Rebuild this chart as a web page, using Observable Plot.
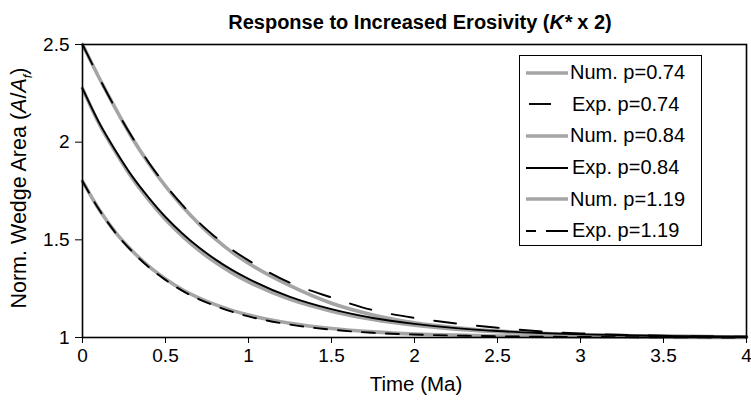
<!DOCTYPE html>
<html>
<head>
<meta charset="utf-8">
<script src="https://cdn.jsdelivr.net/npm/d3@7"></script>
<script src="https://cdn.jsdelivr.net/npm/@observablehq/plot@0.6"></script>
<style>
  body { margin: 0; background: #fff; font-family: "Liberation Sans", Arial, sans-serif; }
  #wrap { position: relative; width: 751px; height: 400px; overflow: hidden; }
  #chart svg text { font-size: 19px !important; font-family: "Liberation Sans", Arial, sans-serif; fill: #000; }
  #title { position: absolute; left: 0; width: 840px; top: 11px; text-align: center; font-weight: bold; font-size: 20px; }
  #ylab { position: absolute; left: 21px; top: 188px; transform: translate(-50%, -50%) rotate(-90deg); white-space: nowrap; font-size: 21.5px; }
  #xlab { position: absolute; left: 0; width: 832px; top: 372px; text-align: center; font-size: 20.5px; }
  #legend { position: absolute; left: 519px; top: 55px; width: 183px; height: 191px; border: 1px solid #000; background: #fff; box-sizing: border-box; padding-top: 1px; }
  .row { height: 31.6px; display: flex; align-items: center; font-size: 20px; }
  .row svg { width: 50px; height: 12px; flex: none; }
</style>
</head>
<body>
<div id="wrap">
  <div id="chart"></div>
  <div id="title">Response to Increased Erosivity (<i>K*</i> x 2)</div>
  <div id="ylab">Norm. Wedge Area (<i>A</i>/<i>A<sub style="font-size:13px">f</sub></i>)</div>
  <div id="xlab">Time (Ma)</div>
  <div id="legend"></div>
</div>
<script>
// Time (Ma)
const time = [0, 0.1, 0.2, 0.3, 0.4, 0.5, 0.6, 0.7, 0.8, 0.9, 1.0, 1.25, 1.5, 1.75, 2.0, 2.25, 2.5, 2.75, 3.0, 3.5, 4.0];
// Normalized wedge area series
const numP074 = [2.5, 2.33, 2.17, 2.02, 1.89, 1.775, 1.673, 1.583, 1.505, 1.437, 1.38, 1.265, 1.175, 1.115, 1.075, 1.05, 1.033, 1.022, 1.014, 1.006, 1.003];
const expP074 = [2.5, 2.33, 2.17, 2.025, 1.895, 1.78, 1.68, 1.59, 1.515, 1.45, 1.395, 1.28, 1.205, 1.14, 1.10, 1.072, 1.05, 1.032, 1.021, 1.009, 1.004];
const numP084 = [2.275, 2.095, 1.948, 1.815, 1.703, 1.604, 1.52, 1.447, 1.385, 1.331, 1.285, 1.195, 1.135, 1.092, 1.063, 1.043, 1.03, 1.02, 1.014, 1.007, 1.003];
const expP084 = [2.275, 2.10, 1.955, 1.825, 1.715, 1.617, 1.534, 1.462, 1.40, 1.346, 1.30, 1.208, 1.145, 1.10, 1.07, 1.048, 1.033, 1.023, 1.016, 1.008, 1.004];
const numP119 = [1.80, 1.655, 1.537, 1.443, 1.364, 1.30, 1.246, 1.203, 1.168, 1.139, 1.115, 1.073, 1.046, 1.029, 1.018, 1.012, 1.008, 1.005, 1.003, 1.001, 1.0];
const expP119 = [1.80, 1.655, 1.535, 1.44, 1.36, 1.295, 1.24, 1.197, 1.162, 1.132, 1.108, 1.066, 1.04, 1.024, 1.015, 1.01, 1.006, 1.004, 1.003, 1.001, 1.0];
// Ticks
const xTicks = [0, 0.5, 1, 1.5, 2, 2.5, 3, 3.5, 4];
const yTicks = [1, 1.5, 2, 2.5];
// Legend
const seriesNames = ["Num. p=0.74", "Exp. p=0.74", "Num. p=0.84", "Exp. p=0.84", "Num. p=1.19", "Exp. p=1.19"];

const GRAY = "#a5a5a5";
const series = [
  {name: seriesNames[0], vals: numP074, stroke: GRAY, width: 3.6, dash: null},
  {name: seriesNames[2], vals: numP084, stroke: GRAY, width: 3.6, dash: null},
  {name: seriesNames[4], vals: numP119, stroke: GRAY, width: 3.6, dash: null},
  {name: seriesNames[1], vals: expP074, stroke: "#000", width: 1.9, dash: "22,21"},
  {name: seriesNames[3], vals: expP084, stroke: "#000", width: 1.9, dash: null},
  {name: seriesNames[5], vals: expP119, stroke: "#000", width: 1.9, dash: "13,11"}
];

const marks = series.map(s => Plot.line(time.map((t, i) => ({t, v: s.vals[i]})), {
  x: "t", y: "v", stroke: s.stroke, strokeWidth: s.width,
  strokeDasharray: s.dash || undefined, curve: "monotone-x"
}));

const chart = Plot.plot({
  width: 751, height: 400,
  marginTop: 44, marginLeft: 82, marginRight: 5, marginBottom: 63,
  style: {fontFamily: "Liberation Sans, Arial, sans-serif", fontSize: "19px", color: "#000", background: "#fff"},
  x: {domain: [0, 4]},
  y: {domain: [1, 2.5]},
  marks: [
    ...marks,
    Plot.frame({stroke: "#000", strokeWidth: 1.6}),
    Plot.axisX({ticks: xTicks, tickSize: 6, tickPadding: 5, label: null, fontSize: 19, tickFormat: d => String(d)}),
    Plot.axisY({ticks: yTicks, tickSize: 7, tickPadding: 6, label: null, fontSize: 19, tickFormat: d => String(d)})
  ]
});
document.getElementById("chart").appendChild(chart);

// Legend
const legendStyles = [
  {stroke: GRAY, width: 3.6, seg: [6, 48], dash: null},
  {stroke: "#000", width: 1.9, seg: [9, 31], dash: null},
  {stroke: GRAY, width: 3.6, seg: [6, 48], dash: null},
  {stroke: "#000", width: 1.9, seg: [6, 48], dash: null},
  {stroke: GRAY, width: 3.6, seg: [6, 48], dash: null},
  {stroke: "#000", width: 1.9, seg: [6, 48], dash: "10,10,22"}
];
const leg = document.getElementById("legend");
seriesNames.forEach((name, i) => {
  const st = legendStyles[i];
  const row = document.createElement("div");
  row.className = "row";
  row.innerHTML = `<svg viewBox="0 0 50 12"><line x1="${st.seg[0]}" x2="${st.seg[1]}" y1="6" y2="6" stroke="${st.stroke}" stroke-width="${st.width}" ${st.dash ? `stroke-dasharray="${st.dash}"` : ""}/></svg><span style="margin-left:${name.startsWith("Exp") ? 2 : 0}px">${name}</span>`;
  leg.appendChild(row);
});
</script>
</body>
</html>
